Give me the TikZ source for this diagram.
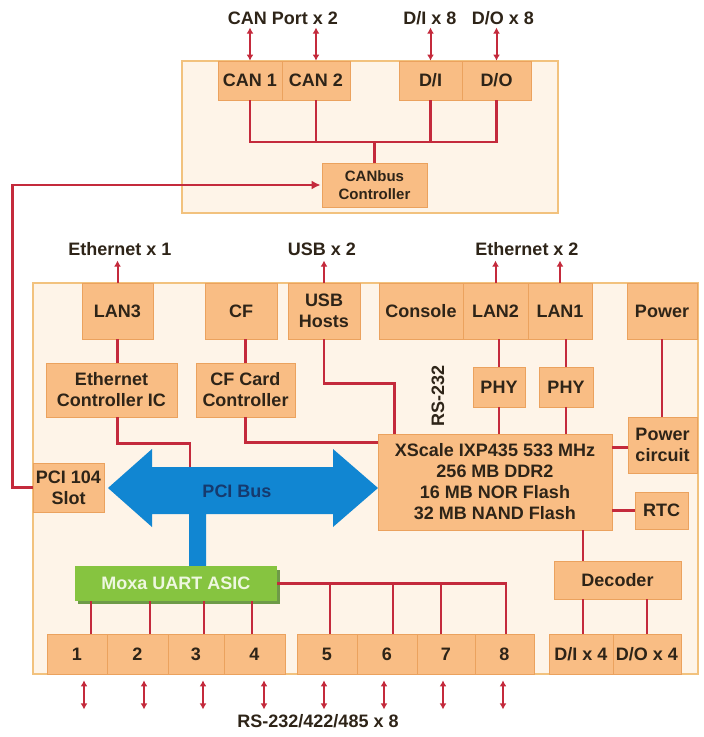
\documentclass[tikz,border=0pt]{standalone}
\usepackage{fontspec}
\setmainfont{Liberation Sans}
\usetikzlibrary{arrows.meta,calc}
\definecolor{boxfill}{HTML}{F9BD84}
\definecolor{boxdraw}{HTML}{EBA25E}
\definecolor{boardfill}{HTML}{FEF4E8}
\definecolor{boarddraw}{HTML}{F2C27E}
\definecolor{wirered}{HTML}{C42A3C}
\definecolor{pciblue}{HTML}{1186D2}
\definecolor{pcitext}{HTML}{163A6E}
\definecolor{moxagreen}{HTML}{86C440}
\definecolor{moxashadow}{HTML}{6E9A48}
\definecolor{moxatext}{HTML}{EEF7E0}
\definecolor{txt}{HTML}{2E2418}
\tikzset{
  board/.style={draw=boarddraw, fill=boardfill, line width=1.8pt, inner sep=0pt},
  box/.style={draw=boxdraw, fill=boxfill, line width=0.8pt, inner sep=0pt, align=center,
    text=txt, font=\fontsize{18}{21}\selectfont\bfseries},
  small/.style={font=\fontsize{15}{18}\selectfont\bfseries},
  lbl/.style={text=txt, font=\fontsize{18}{21}\selectfont\bfseries, inner sep=0pt},
  wire/.style={draw=wirered, line width=2.6pt},
  dbl/.style={draw=wirered, line width=2pt, {Latex[length=6pt,width=7pt]}-{Latex[length=6pt,width=7pt]}},
  uparr/.style={draw=wirered, line width=2pt, -{Latex[length=6pt,width=7pt]}},
  sarr/.style={draw=wirered, line width=2.6pt, -{Latex[length=9pt,width=9pt]}},
}
\begin{document}
\begin{tikzpicture}[x=1pt,y=-1pt]
\useasboundingbox (0,0) rectangle (704,737);

% boards
\node[board, minimum width=376, minimum height=152] (topboard) at (370,137) {};
\node[board, minimum width=665, minimum height=391] (mainboard) at (365.5,478.5) {};

% PCI bus arrow
\fill[pciblue] (108,488) -- (152,449) -- (152,467) -- (333,467) -- (333,449) -- (378,488)
  -- (333,527) -- (333,514) -- (206,514) -- (206,566) -- (189,566) -- (189,514)
  -- (152,514) -- (152,527) -- cycle;
\node[text=pcitext, font=\fontsize{18}{21}\selectfont\bfseries] (pcilabel) at (237,491) {PCI Bus};
\coordinate (ethbus) at (190,467);

% top board boxes
\node[box, minimum width=64, minimum height=39] (can1) at (250,80.5) {CAN 1};
\node[box, minimum width=68, minimum height=39] (can2) at (316,80.5) {CAN 2};
\node[box, minimum width=63, minimum height=39] (di) at (430.5,80.5) {D/I};
\node[box, minimum width=69, minimum height=39] (do) at (496.5,80.5) {D/O};
\node[box, small, minimum width=105, minimum height=44] (canc) at (374.5,185) {CANbus\\Controller};

% main board boxes
\node[box, minimum width=71, minimum height=56] (lan3) at (117.5,311) {LAN3};
\node[box, minimum width=72, minimum height=56] (cf) at (241,311) {CF};
\node[box, minimum width=72, minimum height=56] (usb) at (324,311) {USB\\Hosts};
\node[box, minimum width=84, minimum height=56] (console) at (421,311) {Console};
\node[box, minimum width=65, minimum height=56] (lan2) at (495.5,311) {LAN2};
\node[box, minimum width=64, minimum height=56] (lan1) at (560,311) {LAN1};
\node[box, minimum width=70, minimum height=56] (power) at (662,311) {Power};
\node[box, minimum width=131, minimum height=54] (ethc) at (111.5,390) {Ethernet\\Controller IC};
\node[box, minimum width=99, minimum height=54] (cfc) at (245.5,390) {CF Card\\Controller};
\node[box, minimum width=52, minimum height=40] (phy2) at (499,387) {PHY};
\node[box, minimum width=54, minimum height=40] (phy1) at (566,387) {PHY};
\node[box, minimum width=69, minimum height=56] (pwrc) at (662.5,445) {Power\\circuit};
\node[box, minimum width=234, minimum height=96] (xs) at (495,482)
  {XScale IXP435 533 MHz\\256 MB DDR2\\16 MB NOR Flash\\32 MB NAND Flash};
\node[box, minimum width=53, minimum height=37] (rtc) at (661.5,510.5) {RTC};
\node[box, minimum width=71, minimum height=49] (pci) at (68.5,487.5) {PCI 104\\Slot};
\fill[moxashadow] (78,570) rectangle (280,604);
\node[box, draw=none, fill=moxagreen, text=moxatext, minimum width=202, minimum height=35] (moxa) at (176,583.5) {Moxa UART ASIC};
\node[box, minimum width=127, minimum height=38] (dec) at (617.5,580) {Decoder};

\node[box, minimum width=60, minimum height=40] (p1) at (77,654) {1};
\node[box, minimum width=61, minimum height=40] (p2) at (137.5,654) {2};
\node[box, minimum width=56, minimum height=40] (p3) at (196,654) {3};
\node[box, minimum width=61, minimum height=40] (p4) at (254.5,654) {4};
\node[box, minimum width=60, minimum height=40] (p5) at (327,654) {5};
\node[box, minimum width=60, minimum height=40] (p6) at (387,654) {6};
\node[box, minimum width=58, minimum height=40] (p7) at (446,654) {7};
\node[box, minimum width=59, minimum height=40] (p8) at (504.5,654) {8};
\node[box, minimum width=64, minimum height=40] (di4) at (581,654) {D/I x 4};
\node[box, minimum width=68, minimum height=40] (do4) at (647,654) {D/O x 4};

% outside labels
\node[lbl] (lcan) at (283,18) {CAN Port x 2};
\node[lbl] (ldi) at (430,18) {D/I x 8};
\node[lbl] (ldo) at (503,18) {D/O x 8};
\node[lbl] (leth1) at (120,249) {Ethernet x 1};
\node[lbl] (lusb) at (322,249) {USB x 2};
\node[lbl] (leth2) at (527,249) {Ethernet x 2};
\node[lbl] (lrs) at (318,721) {RS-232/422/485 x 8};
\node[lbl, rotate=90] (lrs232) at (438,396) {RS-232};

% CAN board wiring
\coordinate (cb) at (0,142);
\draw[wire] (can1.south) -- (can1.south |- cb) -- (do.south |- cb) -- (do.south);
\draw[wire] (can2.south) -- (can2.south |- cb);
\draw[wire] (di.south) -- (di.south |- cb);
\draw[wire] (canc.north) -- (canc.north |- cb);
\foreach \n in {can1,can2,di,do}
  \draw[dbl] (\n.north) -- ++(0,-33);

% PCI 104 to CANbus controller
\draw[sarr] (pci.west) -- ++(-20,0) |- ($(canc.west)+(-1,0)$);

% upward arrows
\foreach \n in {lan3,usb,lan2,lan1}
  \draw[uparr] (\n.north) -- ++(0,-22);

% main board wiring
\draw[wire] (lan3.south) -- (lan3.south |- ethc.north);
\draw[wire] (lan3.south |- ethc.south) -- ++(0,26) -| (ethbus);
\draw[wire] (cfc.north |- cf.south) -- (cfc.north);
\draw[wire] (cfc.south) |- ($(xs.north west)+(0,9)$);
\draw[wire] (usb.south) -- ++(0,44) -| ($(xs.north west)+(17,0)$);
\draw[wire] ($(console.south)+(3,0)$) -- ($(console.south)+(3,0)$ |- xs.north);
\draw[wire] (phy2.north |- lan2.south) -- (phy2.north);
\draw[wire] (phy2.south) -- (phy2.south |- xs.north);
\draw[wire] (phy1.north |- lan1.south) -- (phy1.north);
\draw[wire] (phy1.south) -- (phy1.south |- xs.north);
\draw[wire] (power.south) -- (power.south |- pwrc.north);
\draw[wire] ($(xs.north east)+(0,14)$) coordinate (xp) -- (xp -| pwrc.west);
\draw[wire] (rtc.west) -- (rtc.west -| xs.east);
\draw[wire] ($(xs.south -| di4.north)+(2,0)$) coordinate (xd) -- (xd |- dec.north);
\draw[wire] ($(dec.south -| di4.north)+(2,0)$) coordinate (xe) -- (xe |- di4.north);
\draw[wire] (dec.south -| do4.north) -- (do4.north);

% UART to ports
\foreach \p/\x in {p1/91,p2/150,p3/204,p4/252}
  \draw[wire] (moxa.south -| \x,0) -- (\p.north -| \x,0);
\draw[wire] (moxa.east) -- (moxa.east -| 506,0) -- (p8.north -| 506,0);
\foreach \p/\x in {p5/330,p6/393,p7/441}
  \draw[wire] (moxa.east -| \x,0) -- (\p.north -| \x,0);

% bottom arrows
\foreach \p/\x in {p1/84,p2/144,p3/203,p4/264,p5/324,p6/384,p7/443,p8/503}
  \draw[dbl] ($(\p.south -| \x,0)+(0,6)$) -- ++(0,29);
\end{tikzpicture}
\end{document}
